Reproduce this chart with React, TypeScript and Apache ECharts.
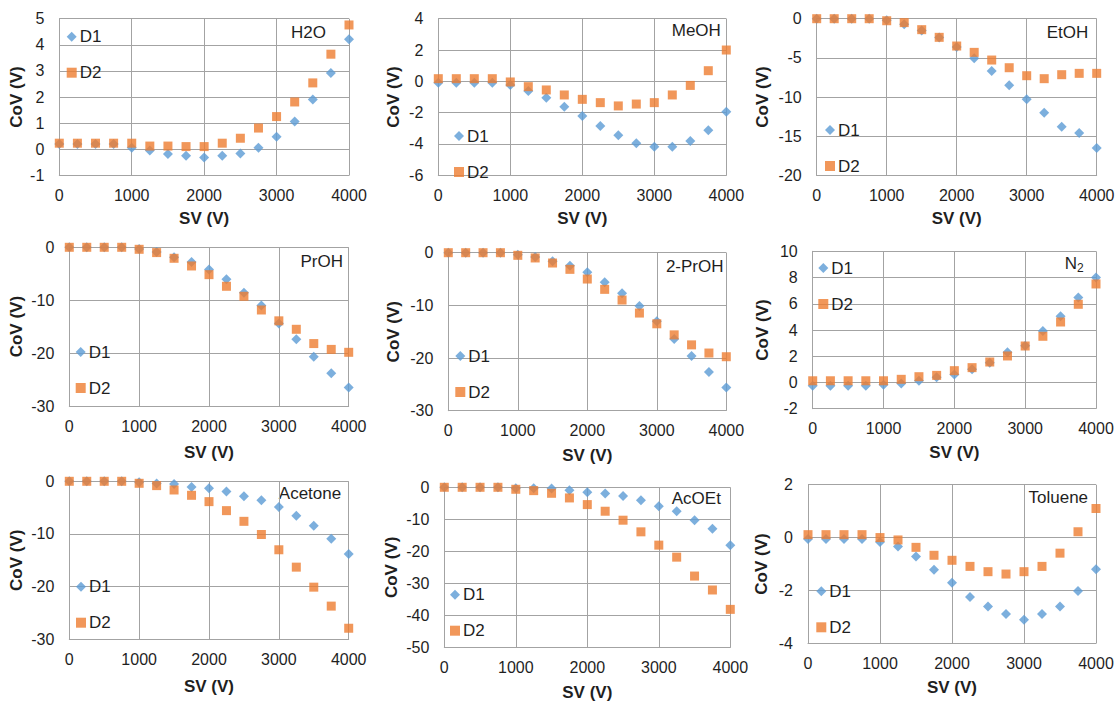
import React, { useEffect, useRef } from "react";
import * as echarts from "echarts";

const svValues = [0, 250, 500, 750, 1000, 1250, 1500, 1750, 2000, 2250, 2500, 2750, 3000, 3250, 3500, 3750, 4000];

const panelNames = ["H2O", "MeOH", "EtOH", "PrOH", "2-PrOH", "N2", "Acetone", "AcOEt", "Toluene"];

const h2oD1 = [0.2, 0.2, 0.2, 0.2, 0.06, -0.05, -0.18, -0.25, -0.32, -0.25, -0.16, 0.06, 0.48, 1.06, 1.9, 2.92, 4.21];
const h2oD2 = [0.23, 0.23, 0.23, 0.23, 0.23, 0.12, 0.12, 0.1, 0.1, 0.23, 0.42, 0.81, 1.25, 1.81, 2.54, 3.64, 4.76];

const meohD1 = [-0.09, -0.09, -0.09, -0.09, -0.23, -0.62, -1.04, -1.62, -2.21, -2.85, -3.45, -3.96, -4.17, -4.17, -3.81, -3.13, -1.94];
const meohD2 = [0.17, 0.17, 0.17, 0.17, -0.04, -0.34, -0.55, -0.87, -1.15, -1.36, -1.57, -1.45, -1.36, -0.87, -0.26, 0.68, 2.0];

const etohD1 = [0, 0, 0, 0, -0.2, -0.7, -1.5, -2.4, -3.6, -5.06, -6.68, -8.51, -10.3, -12.0, -13.8, -14.6, -16.5];
const etohD2 = [0, 0, 0, 0, -0.26, -0.5, -1.4, -2.38, -3.49, -4.3, -5.28, -6.26, -7.28, -7.66, -7.15, -6.98, -6.98];

const prohD1 = [0, 0, 0, 0, -0.3, -0.9, -1.9, -2.77, -4.2, -6.05, -8.57, -11.0, -14.4, -17.4, -20.7, -23.8, -26.5];
const prohD2 = [0, 0, 0, 0, -0.38, -1.0, -2.08, -3.53, -5.17, -7.37, -9.26, -11.85, -13.9, -15.5, -18.2, -19.3, -19.85];

const iprohD1 = [0, 0, 0, 0, -0.4, -0.8, -1.6, -2.47, -3.73, -5.63, -7.72, -10.1, -13.0, -16.4, -19.6, -22.66, -25.6];
const iprohD2 = [0, 0, 0, 0, -0.5, -1.0, -1.96, -3.16, -5.0, -6.96, -8.99, -11.46, -13.5, -15.6, -17.5, -19.05, -19.75];

const n2D1 = [-0.25, -0.25, -0.25, -0.25, -0.17, -0.07, 0.13, 0.4, 0.6, 1.0, 1.5, 2.3, 2.8, 3.92, 5.04, 6.47, 8.0];
const n2D2 = [0.13, 0.13, 0.13, 0.13, 0.13, 0.24, 0.44, 0.54, 0.9, 1.13, 1.56, 2.02, 2.78, 3.52, 4.61, 5.96, 7.51];

const acetoneD1 = [0, 0, 0, 0, -0.2, -0.4, -0.5, -1.08, -1.33, -1.96, -2.85, -3.6, -4.87, -6.52, -8.42, -10.9, -13.8];
const acetoneD2 = [0, 0, 0, 0, -0.38, -0.82, -1.65, -2.66, -3.86, -5.57, -7.6, -10.1, -13.0, -16.3, -20.1, -23.7, -27.9];

const acoetD1 = [0, 0, 0, 0, -0.3, -0.3, -0.4, -0.93, -1.56, -1.97, -2.7, -4.05, -5.91, -7.47, -10.27, -12.97, -18.05];
const acoetD2 = [0, 0, 0, 0, -0.62, -1.04, -1.87, -3.32, -5.4, -7.47, -10.27, -13.9, -18.05, -21.8, -27.7, -32.05, -38.1];

const tolueneD1 = [-0.05, -0.05, -0.05, -0.05, -0.17, -0.34, -0.72, -1.22, -1.71, -2.25, -2.61, -2.89, -3.11, -2.89, -2.61, -2.02, -1.2];
const tolueneD2 = [0.11, 0.11, 0.11, 0.11, 0.0, -0.09, -0.37, -0.67, -0.86, -1.09, -1.29, -1.38, -1.29, -1.09, -0.59, 0.22, 1.1];

const d1Series = [h2oD1, meohD1, etohD1, prohD1, iprohD1, n2D1, acetoneD1, acoetD1, tolueneD1];
const d2Series = [h2oD2, meohD2, etohD2, prohD2, iprohD2, n2D2, acetoneD2, acoetD2, tolueneD2];

// y-axis ranges: [min, max, interval]
const yRanges = [
  [-1, 5, 1],
  [-6, 4, 2],
  [-20, 0, 5],
  [-30, 0, 10],
  [-30, 0, 10],
  [-2, 10, 2],
  [-30, 0, 10],
  [-50, 0, 10],
  [-4, 2, 2],
];

// layout (pixels)
const grids = [
  { left: 59.3, top: 18.7, width: 289.7, height: 156.6 },
  { left: 438.3, top: 18.7, width: 288, height: 156.6 },
  { left: 816.7, top: 18.7, width: 280, height: 156.6 },
  { left: 69.3, top: 247.3, width: 279.4, height: 158.7 },
  { left: 448.3, top: 252.7, width: 278, height: 158 },
  { left: 812.7, top: 251.3, width: 283.3, height: 157.4 },
  { left: 69.3, top: 481.3, width: 279.4, height: 158 },
  { left: 444.3, top: 487.3, width: 286, height: 160.7 },
  { left: 808, top: 484.7, width: 288, height: 158.6 },
];
const yNameGaps = [34.5, 36.5, 46, 44.5, 46.5, 42, 44.5, 44.5, 38.5];
const xNameGaps = [34.5, 34.5, 34.5, 37.5, 36.5, 35, 38.5, 36.5, 36];
const legendPos = [
  [71.7, 36.7],
  [459, 136],
  [830, 130],
  [80.7, 352],
  [460.3, 356],
  [823.3, 268],
  [81, 586.7],
  [455, 594.7],
  [821.3, 591.3],
];
const labelPos = [
  [308.5, 32.3],
  [696.3, 30.5],
  [1067.5, 32.3],
  [321.7, 261.3],
  [694.7, 266.3],
  [1074.3, 263],
  [310, 493],
  [696.3, 498.7],
  [1058.3, 497.3],
];

const FONT = "'Liberation Sans', Arial, sans-serif";
const BLUE = "#5B9BD5";
const ORANGE = "#ED7D31";
const GRID_COLOR = "#a3a3a3";
const TEXT_COLOR = "#1f1f1f";

export default function App() {
  const ref = useRef<HTMLDivElement>(null);

  useEffect(() => {
    if (!ref.current) return;
    const chart = echarts.init(ref.current, undefined, { renderer: "svg" });

    const gridOpt = grids.map((g) => ({ ...g, containLabel: false }));
    const xAxes = grids.map((_, i) => ({
      type: "value",
      gridIndex: i,
      min: 0,
      max: 4000,
      interval: 1000,
      name: "SV (V)",
      nameLocation: "middle",
      nameGap: xNameGaps[i],
      nameTextStyle: { fontFamily: FONT, fontSize: 17, fontWeight: "bold", color: TEXT_COLOR },
      axisLine: { show: true, onZero: false, lineStyle: { color: GRID_COLOR, width: 1 } },
      axisTick: { show: false },
      axisLabel: {
        fontFamily: FONT,
        fontSize: 16,
        color: TEXT_COLOR,
        margin: 12,
        formatter: (v: number) => String(v),
      },
      splitLine: { show: true, lineStyle: { color: GRID_COLOR, width: 1 } },
    }));
    const yAxes = grids.map((_, i) => ({
      type: "value",
      gridIndex: i,
      min: yRanges[i][0],
      max: yRanges[i][1],
      interval: yRanges[i][2],
      name: "CoV (V)",
      nameLocation: "middle",
      nameGap: yNameGaps[i],
      nameTextStyle: { fontFamily: FONT, fontSize: 17, fontWeight: "bold", color: TEXT_COLOR },
      axisLine: { show: true, onZero: false, lineStyle: { color: GRID_COLOR, width: 1 } },
      axisTick: { show: false },
      axisLabel: {
        fontFamily: FONT,
        fontSize: 16,
        color: TEXT_COLOR,
        margin: 15,
        formatter: (v: number) => String(v),
      },
      splitLine: { show: true, lineStyle: { color: GRID_COLOR, width: 1 } },
    }));

    const series: any[] = [];
    grids.forEach((_, i) => {
      series.push({
        type: "scatter",
        name: "D1",
        xAxisIndex: i,
        yAxisIndex: i,
        symbol: "diamond",
        symbolSize: 10,
        itemStyle: { color: BLUE },
        data: svValues.map((x, k) => [x, d1Series[i][k]]),
        z: 2,
      });
      series.push({
        type: "scatter",
        name: "D2",
        xAxisIndex: i,
        yAxisIndex: i,
        symbol: "rect",
        symbolSize: 9,
        itemStyle: { color: ORANGE },
        data: svValues.map((x, k) => [x, d2Series[i][k]]),
        z: 3,
      });
    });

    const legends = legendPos.map(([cx, cy]) => ({
      orient: "vertical",
      left: cx - 5,
      top: cy - 9.5,
      padding: 0,
      itemGap: 17,
      itemWidth: 10,
      itemHeight: 10,
      selectedMode: false,
      textStyle: { fontFamily: FONT, fontSize: 17, color: TEXT_COLOR, padding: [0, 0, 0, -2], lineHeight: 19 },
      data: [
        { name: "D1", icon: "diamond", itemStyle: { color: BLUE } },
        { name: "D2", icon: "rect", itemStyle: { color: ORANGE } },
      ],
    }));

    const graphics = labelPos.map(([cx, cy], i) => {
      const isN2 = panelNames[i] === "N2";
      return {
        type: "text",
        x: cx,
        y: cy,
        silent: true,
        style: {
          text: isN2 ? "{a|N}{b|2}" : panelNames[i],
          fontFamily: FONT,
          fontSize: 17,
          fill: TEXT_COLOR,
          align: "center",
          verticalAlign: "middle",
          rich: isN2
            ? {
                a: { fontFamily: FONT, fontSize: 17, fill: TEXT_COLOR, color: TEXT_COLOR },
                b: { fontFamily: FONT, fontSize: 12, fill: TEXT_COLOR, color: TEXT_COLOR, padding: [10, 0, 0, 0] },
              }
            : undefined,
        },
      };
    });

    chart.setOption({
      animation: false,
      backgroundColor: "#ffffff",
      textStyle: { fontFamily: FONT },
      grid: gridOpt,
      xAxis: xAxes,
      yAxis: yAxes,
      legend: legends,
      series,
      graphic: graphics,
    });

    return () => chart.dispose();
  }, []);

  return (
    <div
      ref={ref}
      style={{ position: "absolute", left: 0, top: 0, width: 1120, height: 702, background: "#fff" }}
    />
  );
}
